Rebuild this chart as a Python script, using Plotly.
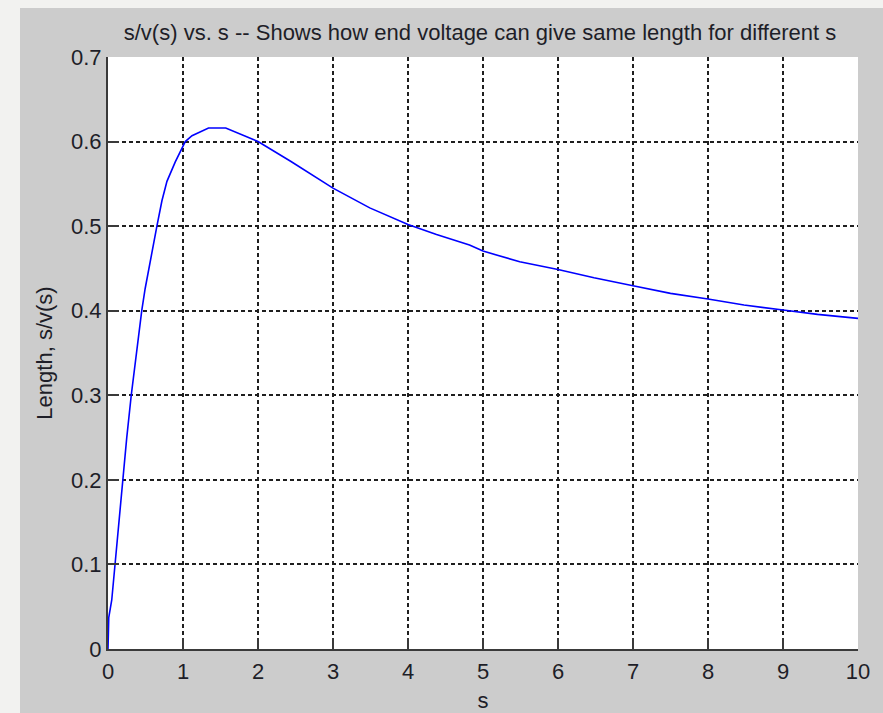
import plotly.graph_objects as go

s_vals = [0, 0.01, 0.05, 0.094, 0.147, 0.19, 0.25, 0.31, 0.384, 0.45, 0.495, 0.5625,
          0.652, 0.719, 0.786, 0.897, 1.03, 1.12, 1.34, 1.57, 2.0, 2.44, 3.0, 3.49,
          4.0, 4.38, 4.82, 5.0, 5.49, 6.0, 6.48, 7.0, 7.5, 8.0, 8.48, 9.0, 9.46, 10.0]
length_vals = [0, 0.037, 0.058, 0.1, 0.157, 0.2, 0.25, 0.3, 0.356, 0.4, 0.426, 0.46,
               0.5, 0.53, 0.553, 0.576, 0.6, 0.607, 0.616, 0.616, 0.6, 0.5765, 0.545, 0.5216,
               0.502, 0.49, 0.4776, 0.4705, 0.4579, 0.4488, 0.439, 0.4295, 0.4205, 0.4138, 0.4067, 0.4008, 0.3957, 0.391]

x_ticks = [0, 1, 2, 3, 4, 5, 6, 7, 8, 9, 10]
x_tick_labels = ["0", "1", "2", "3", "4", "5", "6", "7", "8", "9", "10"]
y_ticks = [0, 0.1, 0.2, 0.3, 0.4, 0.5, 0.6, 0.7]
y_tick_labels = ["0", "0.1", "0.2", "0.3", "0.4", "0.5", "0.6", "0.7"]

title_text = "s/v(s) vs. s -- Shows how end voltage can give same length for different s"
x_title = "s"
y_title = "Length, s/v(s)"

W, H = 883, 713
L, R, T, B = 108, 25, 57, 64
pw, ph = W - L - R, H - T - B

def px_to_paper_x(px):
    return (px - L) / pw

def px_to_paper_y(py):
    return (H - B - py) / ph

FONT = "Liberation Sans, Arial, sans-serif"
TXT = "#1e1e28"
GRID = "#1f1f1f"

fig = go.Figure()
fig.add_trace(go.Scatter(x=s_vals, y=length_vals, mode="lines",
                         line=dict(color="#0000ff", width=1.6), showlegend=False))

axis_common = dict(
    showgrid=True, gridcolor=GRID, gridwidth=1.8, griddash="4px,3px",
    showline=True, linecolor="#3a3a3a", linewidth=2,
    ticks="inside", ticklen=11, tickcolor="#3a3a3a", tickwidth=1.8,
    zeroline=False, tickfont=dict(family=FONT, size=22, color=TXT),
    mirror=False, automargin=False,
)

fig.update_xaxes(range=[0, 10], tickvals=x_ticks, ticktext=x_tick_labels,
                 ticklabelstandoff=2,
                 title=dict(text=x_title, font=dict(family=FONT, size=22, color=TXT), standoff=9),
                 **axis_common)
fig.update_yaxes(range=[0, 0.7], tickvals=y_ticks, ticktext=y_tick_labels,
                 title=dict(text=y_title, font=dict(family=FONT, size=22, color=TXT), standoff=12),
                 **axis_common)

shapes = [
    dict(type="rect", xref="paper", yref="paper", layer="below",
         x0=px_to_paper_x(20), x1=px_to_paper_x(W + 5),
         y0=px_to_paper_y(H + 5), y1=px_to_paper_y(8),
         fillcolor="#cccccc", line=dict(width=0)),
    dict(type="rect", xref="paper", yref="paper", layer="below",
         x0=0, x1=1, y0=0, y1=1, fillcolor="#ffffff", line=dict(width=0)),
]

fig.update_layout(
    width=W, height=H,
    margin=dict(l=L, r=R, t=T, b=B, pad=0, autoexpand=False),
    paper_bgcolor="#f2f2f0", plot_bgcolor="#ffffff",
    title=dict(text=title_text, x=480 / W, xanchor="center",
               y=1 - 32 / H, yanchor="middle",
               font=dict(family=FONT, size=22, color=TXT)),
    shapes=shapes,
)

fig.write_html("out.html",
               config={"displayModeBar": False},
               post_script="document.body.style.margin='0';document.body.style.background='#f2f2f0';document.body.style.overflow='hidden';")
